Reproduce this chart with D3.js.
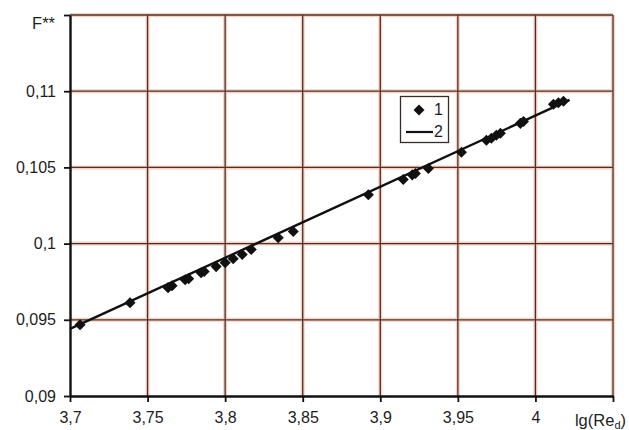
<!DOCTYPE html>
<html>
<head>
<meta charset="utf-8">
<script src="https://cdn.jsdelivr.net/npm/d3@7"></script>
<style>
  html, body { margin: 0; padding: 0; background: #fff; }
  svg { display: block; font-family: "Liberation Sans", Arial, sans-serif; }
</style>
</head>
<body>
<svg id="chart" width="629" height="430"></svg>
<script>
// Measured points (series 1)
const lgRe = [3.7065, 3.7387, 3.7632, 3.7658, 3.7742, 3.7765, 3.7845, 3.7865, 3.7942, 3.8000,
              3.8052, 3.8110, 3.8168, 3.8342, 3.8439, 3.8923, 3.9148, 3.9206, 3.9226, 3.9310,
              3.9523, 3.9684, 3.9716, 3.9748, 3.9774, 3.9903, 3.9923, 4.0116, 4.0148, 4.0181];
const fVal = [0.09467, 0.09612, 0.09711, 0.09724, 0.09763, 0.09770, 0.09809, 0.09817, 0.09849, 0.09875,
              0.09901, 0.09928, 0.09961, 0.10039, 0.10079, 0.10321, 0.10421, 0.10451, 0.10460, 0.10493,
              0.10599, 0.10678, 0.10691, 0.10711, 0.10724, 0.10789, 0.10801, 0.10914, 0.10924, 0.10934];

// Fitted line (series 2)
const fitX = [3.7, 4.022];
const fitY = [0.0944, 0.10943];

// Axis ticks
const xTicks = [3.7, 3.75, 3.8, 3.85, 3.9, 3.95, 4, 4.05];
const xTickLabels = ["3,7", "3,75", "3,8", "3,85", "3,9", "3,95", "4", ""];
const yTicks = [0.09, 0.095, 0.1, 0.105, 0.11, 0.115];
const yTickLabels = ["0,09", "0,095", "0,1", "0,105", "0,11", ""];

const legendLabels = ["1", "2"];

const svg = d3.select("#chart");
const plotL = 70, plotR = 613, plotT = 15, plotB = 396;

const x = d3.scaleLinear().domain([3.7, 4.05]).range([plotL, plotR]);
const y = d3.scaleLinear().domain([0.09, 0.115]).range([plotB, plotT]);

const gridColor = "#4e302a";
const haloColor = "#f7d0c0";

// Grid: a soft warm halo under each line, then the line itself
const grid = svg.append("g");
[haloColor, gridColor].forEach((c, i) => {
  const w = i === 0 ? 4 : 1.3;
  grid.append("g").selectAll("line").data(xTicks.slice(1)).join("line")
    .attr("x1", d => x(d)).attr("x2", d => x(d))
    .attr("y1", plotT).attr("y2", plotB)
    .attr("stroke", c).attr("stroke-width", w);
  grid.append("g").selectAll("line").data(yTicks.slice(1)).join("line")
    .attr("x1", plotL).attr("x2", plotR)
    .attr("y1", d => y(d)).attr("y2", d => y(d))
    .attr("stroke", c).attr("stroke-width", w);
});

// Axes
const xAxis = d3.axisBottom(x).tickValues(xTicks)
  .tickFormat((d, i) => xTickLabels[i]).tickSize(6).tickPadding(10).tickSizeOuter(0);
const yAxis = d3.axisLeft(y).tickValues(yTicks)
  .tickFormat((d, i) => yTickLabels[i]).tickSize(6).tickPadding(8).tickSizeOuter(0);

const gx = svg.append("g").attr("transform", `translate(0,${plotB})`).call(xAxis);
const gy = svg.append("g").attr("transform", `translate(${plotL},0)`).call(yAxis);
[gx, gy].forEach(g => {
  g.select(".domain").attr("stroke", "#111").attr("stroke-width", 2.4);
  g.selectAll(".tick line").attr("stroke", "#111").attr("stroke-width", 1.8);
  g.selectAll(".tick text").attr("fill", "#1e1e1e").style("font-size", "16px")
    .style("font-family", "'Liberation Sans', Arial, sans-serif");
});

// Axis titles
svg.append("text").attr("x", 55).attr("y", 29).attr("text-anchor", "end")
  .attr("fill", "#1e1e1e").style("font-size", "16.5px").text("F**");

const xt = svg.append("text").attr("x", 626).attr("y", 426).attr("text-anchor", "end")
  .attr("fill", "#1e1e1e").style("font-size", "16.5px");
xt.append("tspan").text("lg(Re");
xt.append("tspan").attr("dy", 3).style("font-size", "11px").text("d");
xt.append("tspan").attr("dy", -3).text(")");

// Fitted line
const line = d3.line().x(d => x(d[0])).y(d => y(d[1]));
svg.append("path").datum(fitX.map((v, i) => [v, fitY[i]]))
  .attr("d", line).attr("fill", "none").attr("stroke", "#111").attr("stroke-width", 2.4);

// Measured points as diamonds
const diamond = d3.symbol().type(d3.symbolDiamond2).size(78);
svg.append("g").selectAll("path").data(lgRe.map((v, i) => [v, fVal[i]])).join("path")
  .attr("d", diamond)
  .attr("transform", d => `translate(${x(d[0])},${y(d[1])})`)
  .attr("fill", "#111");

// Legend
const lg = svg.append("g");
lg.append("rect").attr("x", 400.5).attr("y", 96.5).attr("width", 48).attr("height", 46)
  .attr("fill", "#fff").attr("stroke", "#3a2a28").attr("stroke-width", 1.3);
lg.append("path").attr("d", diamond).attr("transform", "translate(419,110)").attr("fill", "#111");
lg.append("line").attr("x1", 406).attr("x2", 433).attr("y1", 132).attr("y2", 132)
  .attr("stroke", "#111").attr("stroke-width", 2.2);
lg.selectAll("text").data(legendLabels).join("text")
  .attr("x", 434).attr("y", (d, i) => 115 + i * 22)
  .attr("fill", "#1e1e1e").style("font-size", "16px").text(d => d);
</script>
</body>
</html>
